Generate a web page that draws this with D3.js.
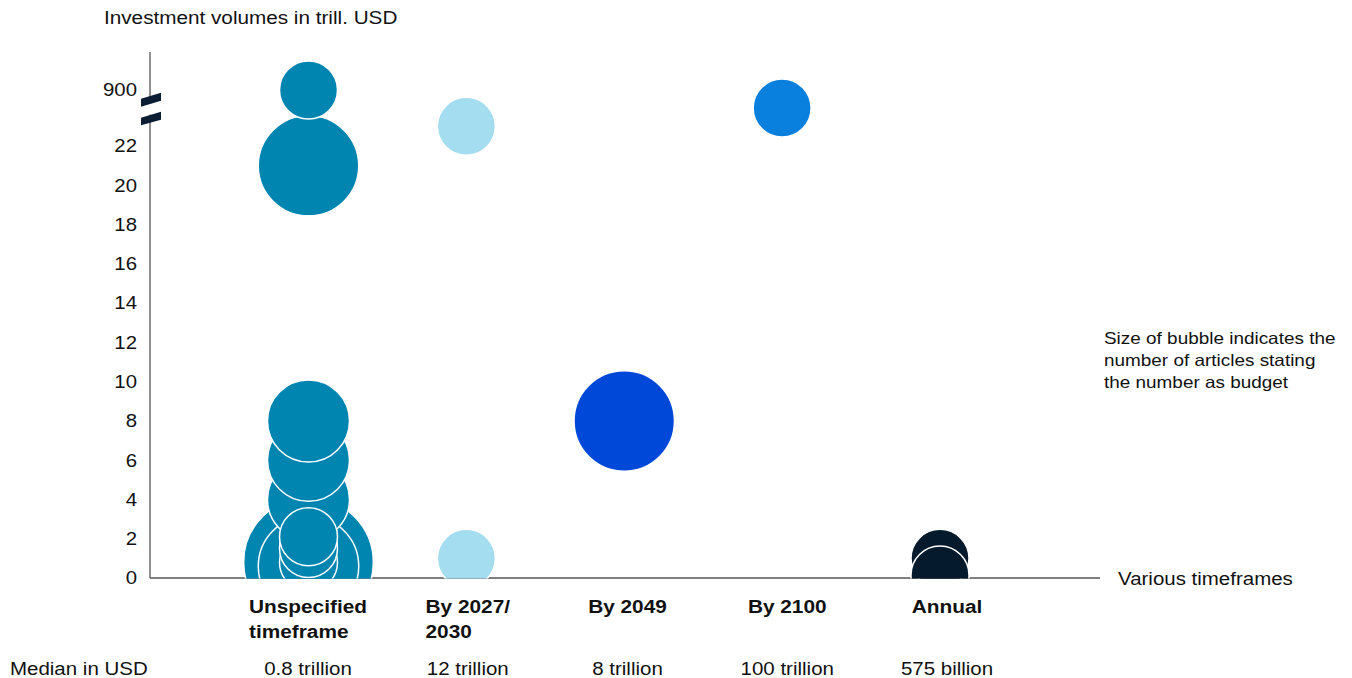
<!DOCTYPE html>
<html>
<head>
<meta charset="utf-8">
<script src="https://cdn.jsdelivr.net/npm/d3@7"></script>
<style>
  html, body { margin: 0; padding: 0; background: #fff; }
  svg { display: block; font-family: "Liberation Sans", Arial, sans-serif; }
</style>
</head>
<body>
<svg id="chart" width="1352" height="678"></svg>
<script>
// Timeframe categories (label lines) and the median budget stated for each
const categories = ["Unspecified", "By 2027/2030", "By 2049", "By 2100", "Annual"];
const categoryLines = [["Unspecified", "timeframe"], ["By 2027/", "2030"], ["By 2049"], ["By 2100"], ["Annual"]];
const medians = ["0.8 trillion", "12 trillion", "8 trillion", "100 trillion", "575 billion"];

// Bubbles: budget in trillion USD and number of articles quoting it (drawn in this order)
const bubbleCategory = ["Unspecified", "Unspecified", "Unspecified", "Unspecified", "Unspecified",
                        "Unspecified", "Unspecified", "Unspecified", "Unspecified", "Unspecified",
                        "By 2027/2030", "By 2027/2030", "By 2049", "By 2100", "Annual", "Annual"];
const bubbleValue    = [0.8, 0.6, 4, 6, 8, 0.8, 1.5, 2.1, 21, 900, 1, 23, 8, 100, 1, 0.15];
const bubbleArticles = [5, 3, 2, 2, 2, 1, 1, 1, 3, 1, 1, 1, 3, 1, 1, 1];

// Y axis tick labels (axis is broken between 22 and 900)
const yTicks = [0, 2, 4, 6, 8, 10, 12, 14, 16, 18, 20, 22, 900];

const colors = {
  "Unspecified": "#0085b1",
  "By 2027/2030": "#a4dcf0",
  "By 2049": "#0049d8",
  "By 2100": "#0a80de",
  "Annual": "#061a2e"
};

const svg = d3.select("#chart");
const SX = 1.12; // horizontal stretch of the lettering

function label(sel, x, y, text, size, opts = {}) {
  return sel.append("text")
    .attr("transform", `translate(${x},${y}) scale(${SX},1)`)
    .attr("font-size", size)
    .attr("font-weight", opts.bold ? "bold" : "normal")
    .attr("text-anchor", opts.anchor || "start")
    .attr("dy", "0.35em")
    .attr("fill", "#111")
    .text(text);
}

const axisX = 150, axisY = 578, axisEnd = 1100;

// Piecewise-linear y scale: 0–23 linear, then compressed above the break
const y = d3.scaleLinear()
  .domain([0, 23, 100, 900])
  .range([axisY, axisY - 23 * 19.636, 108, 90]);

const x = d3.scalePoint().domain(categories).range([308.5, 940]);
const xLabel = d3.scalePoint().domain(categories).range([308, 947]);
const r = d3.scaleSqrt().domain([0, 1]).range([0, 29]);

// Axes
svg.append("line")
  .attr("x1", axisX).attr("x2", axisX).attr("y1", 52).attr("y2", axisY)
  .attr("stroke", "#555").attr("stroke-width", 1.3);
svg.append("line")
  .attr("x1", axisX).attr("x2", axisEnd).attr("y1", axisY).attr("y2", axisY)
  .attr("stroke", "#555").attr("stroke-width", 1.3);

// Axis break marks
const bY = (y(900) + y(23)) / 2;
const brk = svg.append("g").attr("transform", `translate(${axisX},${bY})`);
brk.append("path")
  .attr("d", "M-9,-3 L11,-9.5 L11,3 L-9,9 Z").attr("fill", "#fff");
brk.append("path")
  .attr("d", "M-9,-9.5 L11,-15.5 L11,-7.5 L-9,-1.5 Z").attr("fill", "#0b1e33");
brk.append("path")
  .attr("d", "M-9,9.5 L11,3.5 L11,11.5 L-9,17 Z").attr("fill", "#0b1e33");

// Tick labels
const tickG = svg.append("g");
yTicks.forEach(t => label(tickG, 137, y(t), String(t), 18.2, { anchor: "end" }));

// Bubbles, clipped at the baseline
svg.append("clipPath").attr("id", "plotClip")
  .append("rect").attr("x", axisX).attr("y", 0).attr("width", 1200).attr("height", axisY + 0.5);

const bubbles = bubbleValue.map((v, i) => ({
  cat: bubbleCategory[i], value: v, articles: bubbleArticles[i]
}));

svg.append("g").attr("clip-path", "url(#plotClip)")
  .selectAll("circle")
  .data(bubbles)
  .join("circle")
  .attr("cx", d => x(d.cat))
  .attr("cy", d => y(d.value))
  .attr("r", d => r(d.articles))
  .attr("fill", d => colors[d.cat])
  .attr("stroke", "#fff")
  .attr("stroke-width", 1.5);

// Titles and notes
label(svg, 104, 18, "Investment volumes in trill. USD", 18.5);
label(svg, 1118, 579, "Various timeframes", 18.3);
const note = ["Size of bubble indicates the", "number of articles stating", "the number as budget"];
note.forEach((t, i) => label(svg, 1104, 338 + i * 22, t, 16.9));

// Category labels: block of lines centred on its widest line
categories.forEach((c, i) => {
  const lines = categoryLines[i];
  const g = svg.append("g");
  const texts = lines.map((t, j) => label(g, 0, 606 + j * 25, t, 18.6, { bold: true }));
  const w = d3.max(texts, tx => tx.node().getComputedTextLength() * SX);
  const left = xLabel(c) - w / 2;
  texts.forEach((tx, j) => tx.attr("transform", `translate(${left},${606 + j * 25}) scale(${SX},1)`));
});

// Median row
label(svg, 10, 669, "Median in USD", 18.3);
categories.forEach((c, i) => label(svg, xLabel(c), 669, medians[i], 18.3, { anchor: "middle" }));
</script>
</body>
</html>
